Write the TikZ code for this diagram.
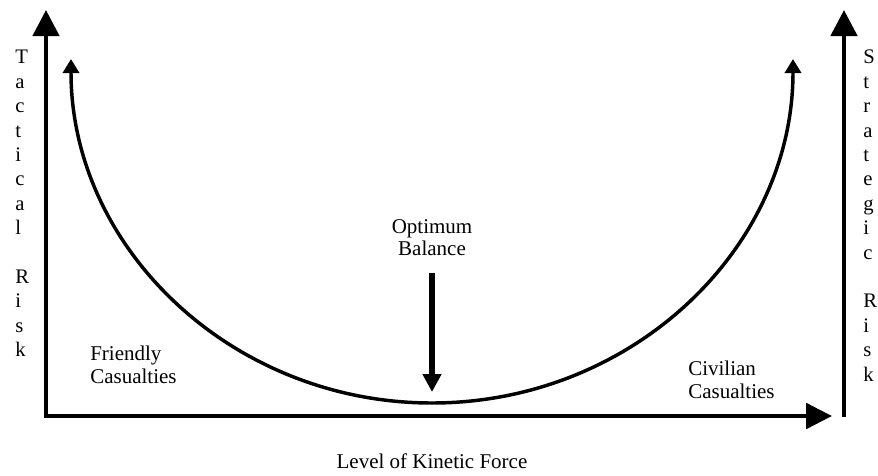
\documentclass[tikz,border=0pt]{standalone}
\usepackage{fontspec}
\setmainfont{Liberation Serif}
\usetikzlibrary{arrows.meta}
\tikzset{
  every picture/.style={line join=miter},
  axis/.style={line width=3.4pt},
  bigtip/.style={-{Triangle[length=19.5pt, width=19.5pt]}},
  curve/.style={line width=2.6pt, {Triangle[length=10.5pt, width=12pt]}-{Triangle[length=10.5pt, width=12pt]}},
  push/.style={line width=4.1pt, -{Triangle[length=13.5pt, width=13.5pt]}},
  letters/.style={font=\fontsize{15.5}{18.3}\selectfont, align=left, inner sep=0pt, anchor=north west},
  lbl/.style={font=\fontsize{15.75}{17}\selectfont, inner sep=0pt},
}

\begin{document}
\begin{tikzpicture}[x=0.75pt, y=-0.75pt]
  \useasboundingbox (0,0) rectangle (878,475);
  % axes
  \coordinate (tacttop) at (46,10);
  \coordinate (forceend) at (832,416);
  \coordinate (stratbase) at (844,417);
  \coordinate (strattop) at (844,10);
  \draw[axis, {Triangle[length=19.5pt, width=19.5pt]}-{Triangle[length=19.5pt, width=19pt]}] (tacttop) |- (forceend);
  \draw[axis, bigtip] (stratbase) -- (strattop);
  % the U curve
  \coordinate (leftend) at (71,59);
  \draw[curve] (leftend) arc[start angle=180, end angle=0, x radius=361, y radius=344];
  % texts
  \node[letters] (tactical) at (15,50) {T\\a\\c\\t\\i\\c\\a\\l\\\mbox{}\\R\\i\\s\\k};
  \node[letters] (strategic) at (863,50) {S\\t\\r\\a\\t\\e\\g\\i\\c\\\mbox{}\\R\\i\\s\\k};
  \node[lbl, anchor=north, align=center] (optimum) at (432,219) {Optimum\\Balance};
  \node[lbl, anchor=north west, align=left] (friendly) at (90,346) {Friendly\\Casualties};
  \node[lbl, anchor=north west, align=left] (civilian) at (688,361) {Civilian\\Casualties};
  \node[lbl, anchor=base] (force) at (432,468) {Level of Kinetic Force};
  % balance arrow
  \coordinate (baltip) at (432,392);
  \draw[push, shorten <=12.5pt] (optimum) -- (baltip);
\end{tikzpicture}
\end{document}
